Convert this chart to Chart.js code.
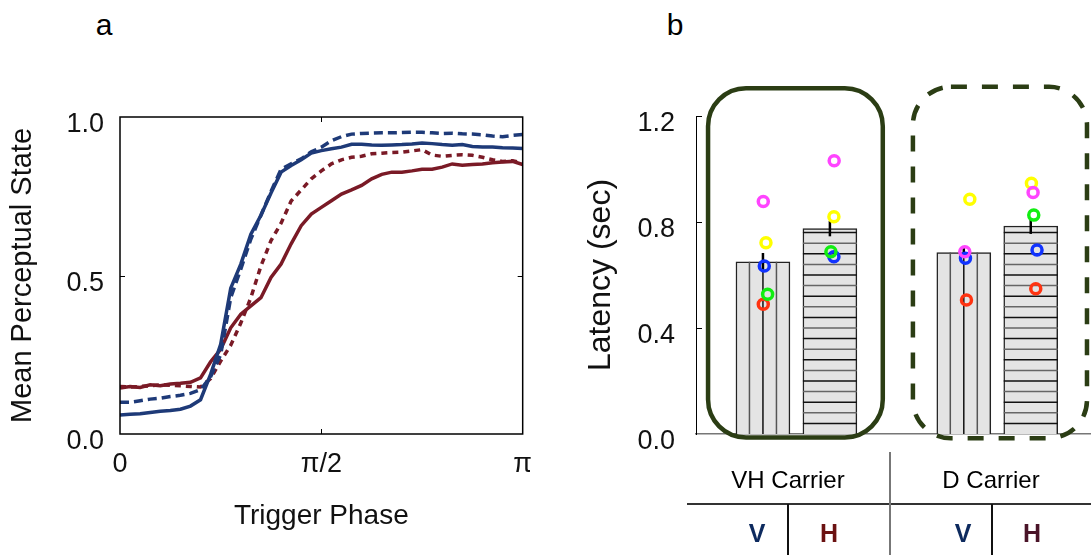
<!DOCTYPE html>
<html>
<head>
<meta charset="utf-8">
<script src="https://cdn.jsdelivr.net/npm/chart.js@4.4.0/dist/chart.umd.min.js"></script>
<style>
  html, body { margin: 0; padding: 0; background: #fff; }
  body { width: 1091px; height: 555px; position: relative; overflow: hidden;
         font-family: "Liberation Sans", Arial, sans-serif; color: #000; }
  .box { position: absolute; }
  .lbl { position: absolute; text-align: center; white-space: nowrap; }
  .rule { position: absolute; }
</style>
</head>
<body>

<div class="lbl" style="left:89px;top:10px;width:30px;font-size:30px;line-height:30px;">a</div>
<div class="lbl" style="left:660px;top:10px;width:30px;font-size:30px;line-height:30px;">b</div>

<div class="box" style="left:0;top:0;width:546px;height:555px;"><canvas id="phaseChart"></canvas></div>
<div class="box" style="left:560px;top:0;width:531px;height:555px;"><canvas id="latencyChart"></canvas></div>

<!-- condition table under panel b -->
<div class="rule" style="left:687px;top:503px;width:404px;height:2px;background:#333;"></div>
<div class="rule" style="left:889px;top:452px;width:2px;height:103px;background:#777;"></div>
<div class="rule" style="left:787px;top:504px;width:1.5px;height:51px;background:#111;"></div>
<div class="rule" style="left:991px;top:504px;width:1.5px;height:51px;background:#111;"></div>
<div class="lbl" style="left:688px;top:468px;width:200px;font-size:24px;line-height:24px;">VH Carrier</div>
<div class="lbl" style="left:891px;top:468px;width:200px;font-size:24px;line-height:24px;">D Carrier</div>
<div class="lbl" style="left:737px;top:521px;width:40px;font-weight:bold;font-size:25px;line-height:24px;color:#0d2a5e;">V</div>
<div class="lbl" style="left:809px;top:521px;width:40px;font-weight:bold;font-size:25px;line-height:24px;color:#6b1212;">H</div>
<div class="lbl" style="left:943px;top:521px;width:40px;font-weight:bold;font-size:25px;line-height:24px;color:#0d2a5e;">V</div>
<div class="lbl" style="left:1012px;top:521px;width:40px;font-weight:bold;font-size:25px;line-height:24px;color:#4a1428;">H</div>

<script>
// ---- panel a: trigger phase (fraction of pi) vs mean perceptual state
const phase = [0, 0.025, 0.05, 0.075, 0.1, 0.125, 0.15, 0.175, 0.2, 0.225,
  0.25, 0.275, 0.3, 0.325, 0.35, 0.375, 0.4, 0.425, 0.45, 0.475,
  0.5, 0.525, 0.55, 0.575, 0.6, 0.625, 0.65, 0.675, 0.7, 0.725,
  0.75, 0.775, 0.8, 0.825, 0.85, 0.875, 0.9, 0.925, 0.95, 0.975, 1];

const vSolid = [0.060, 0.062, 0.064, 0.068, 0.072, 0.074, 0.078, 0.088, 0.108, 0.188,
  0.283, 0.460, 0.536, 0.630, 0.690, 0.760, 0.826, 0.847, 0.865, 0.886,
  0.894, 0.900, 0.905, 0.914, 0.914, 0.912, 0.911, 0.912, 0.913, 0.915,
  0.918, 0.916, 0.913, 0.911, 0.913, 0.907, 0.905, 0.905, 0.903, 0.902, 0.901];

const vDashed = [0.100, 0.100, 0.105, 0.110, 0.113, 0.118, 0.122, 0.128, 0.140, 0.180,
  0.250, 0.430, 0.520, 0.615, 0.690, 0.765, 0.835, 0.852, 0.868, 0.890,
  0.905, 0.925, 0.938, 0.946, 0.948, 0.949, 0.950, 0.950, 0.951, 0.952,
  0.952, 0.950, 0.948, 0.949, 0.947, 0.946, 0.944, 0.940, 0.938, 0.942, 0.945];

const hSolid = [0.145, 0.150, 0.147, 0.155, 0.152, 0.158, 0.160, 0.163, 0.177, 0.228,
  0.267, 0.335, 0.378, 0.404, 0.430, 0.494, 0.536, 0.600, 0.657, 0.694,
  0.715, 0.736, 0.757, 0.770, 0.784, 0.805, 0.819, 0.826, 0.826, 0.830,
  0.835, 0.835, 0.842, 0.852, 0.848, 0.850, 0.852, 0.856, 0.858, 0.860, 0.850];

const hDashed = [0.150, 0.148, 0.150, 0.152, 0.155, 0.154, 0.152, 0.150, 0.148, 0.175,
  0.230, 0.280, 0.350, 0.430, 0.530, 0.610, 0.665, 0.735, 0.770, 0.805,
  0.830, 0.852, 0.865, 0.873, 0.876, 0.884, 0.886, 0.888, 0.889, 0.893,
  0.897, 0.880, 0.876, 0.879, 0.881, 0.879, 0.873, 0.865, 0.860, 0.862, 0.855];

const phaseTickLabels = { 0: '0', 0.5: 'π/2', 1: 'π' };

// ---- panel b: latency per condition
const barPos = [1, 2, 4, 5];
const meanLatency = [0.650, 0.775, 0.685, 0.785];
const semLatency = [0.033, 0.029, 0.020, 0.030];
const hatchKind = ['v', 'h', 'v', 'h'];

// individual subjects (null = not visible), with small x jitter in axis units
const subjMagenta = [0.877, 1.031, 0.688, 0.911];
const subjYellow  = [0.722, 0.820, 0.886, 0.946];
const subjBlue    = [0.634, 0.669, 0.663, 0.694];
const subjGreen   = [0.527, 0.688, null, 0.826];
const subjRed     = [0.490, null, 0.506, 0.548];
const jitMagenta = [0.005, 0.064, 0.015, 0.035];
const jitYellow  = [0.045, 0.060, 0.090, 0.010];
const jitBlue    = [0.020, 0.060, 0.025, 0.094];
const jitGreen   = [0.070, 0.015, 0, 0.045];
const jitRed     = [0.005, 0, 0.040, 0.075];

// carrier group outlines, in axis units
const groupBoxes = [
  { x0: 0.18, x1: 2.79, y0: -0.013, y1: 1.305, dashed: false },
  { x0: 3.24, x1: 5.84, y0: -0.016, y1: 1.31, dashed: true }
];

Chart.defaults.font.family = '"Liberation Sans", Arial, sans-serif';
Chart.defaults.color = '#111';
Chart.defaults.animation = false;

const BLUE = '#1e3a78';
const RED = '#7a1a26';

function toPts(ys) {
  return ys.map((v, i) => ({ x: phase[i], y: v }));
}

const frameTicks = {
  id: 'frameTicks',
  afterDatasetsDraw(chart) {
    const { ctx, chartArea: a, scales: { x, y } } = chart;
    ctx.save();
    ctx.strokeStyle = '#000';
    ctx.lineWidth = 1.5;
    ctx.strokeRect(a.left, a.top, a.right - a.left, a.bottom - a.top);
    ctx.lineWidth = 1;
    ctx.beginPath();
    y.ticks.forEach(t => {
      if (t.value <= y.min || t.value >= y.max) return;
      const py = Math.round(y.getPixelForValue(t.value)) + 0.5;
      ctx.moveTo(a.left, py); ctx.lineTo(a.left + 5, py);
      ctx.moveTo(a.right, py); ctx.lineTo(a.right - 5, py);
    });
    x.ticks.forEach(t => {
      if (t.value <= x.min || t.value >= x.max) return;
      const px = Math.round(x.getPixelForValue(t.value)) + 0.5;
      ctx.moveTo(px, a.bottom); ctx.lineTo(px, a.bottom - 5);
      ctx.moveTo(px, a.top); ctx.lineTo(px, a.top + 5);
    });
    ctx.stroke();
    ctx.restore();
  }
};

new Chart(document.getElementById('phaseChart'), {
  type: 'line',
  data: {
    datasets: [
      { data: toPts(vSolid), borderColor: BLUE, borderWidth: 3.5 },
      { data: toPts(vDashed), borderColor: BLUE, borderWidth: 3.5, borderDash: [9, 5] },
      { data: toPts(hSolid), borderColor: RED, borderWidth: 3.5 },
      { data: toPts(hDashed), borderColor: RED, borderWidth: 3.5, borderDash: [6, 5] }
    ]
  },
  options: {
    responsive: true,
    maintainAspectRatio: false,
    layout: { autoPadding: false, padding: { top: 117, right: 12, left: 0, bottom: 0 } },
    elements: { point: { radius: 0 }, line: { tension: 0 } },
    plugins: { legend: { display: false }, tooltip: { enabled: false } },
    scales: {
      x: {
        type: 'linear', min: 0, max: 1,
        border: { display: false },
        grid: { display: false, drawTicks: false },
        ticks: { stepSize: 0.5, padding: 14, font: { size: 27 },
                 callback: v => phaseTickLabels[v] },
        title: { display: true, text: 'Trigger Phase', font: { size: 28 },
                 padding: { top: 0, bottom: 22 } },
        afterFit: s => { s.height = 121; }
      },
      y: {
        min: 0, max: 1,
        border: { display: false },
        grid: { display: false, drawTicks: false },
        ticks: { stepSize: 0.5, padding: 16, labelOffset: 8, font: { size: 27 },
                 callback: v => v.toFixed(1) },
        title: { display: true, text: 'Mean Perceptual State', font: { size: 29 },
                 padding: { top: 6, bottom: 0 } },
        afterFit: s => { s.width = 120; }
      }
    }
  },
  plugins: [frameTicks]
});

// ---- panel b helpers
function subjectPts(vals, jit) {
  const pts = [];
  vals.forEach((v, i) => { if (v !== null) pts.push({ x: barPos[i] + jit[i], y: v }); });
  return pts;
}

function ring(vals, jit, color) {
  return {
    type: 'scatter', data: subjectPts(vals, jit),
    borderColor: color, backgroundColor: 'rgba(0,0,0,0)',
    pointRadius: 5, pointBorderWidth: 3.5, pointHoverRadius: 5
  };
}

function roundRect(ctx, x0, y0, x1, y1, r) {
  ctx.beginPath();
  ctx.moveTo(x0 + r, y0);
  ctx.arcTo(x1, y0, x1, y1, r);
  ctx.arcTo(x1, y1, x0, y1, r);
  ctx.arcTo(x0, y1, x0, y0, r);
  ctx.arcTo(x0, y0, x1, y0, r);
  ctx.closePath();
}

const barDecor = {
  id: 'barDecor',
  afterDatasetDraw(chart, args) {
    if (args.meta.type !== 'bar') return;
    const { ctx } = chart;
    const y = chart.scales.y;
    ctx.save();
    args.meta.data.forEach((el, i) => {
      const { x, y: top, base, width } = el.getProps(['x', 'y', 'base', 'width'], true);
      const left = x - width / 2, right = x + width / 2;
      ctx.lineWidth = 1.5;
      if (hatchKind[i] === 'v') {
        [0.25, 0.5, 0.75].forEach((f, k) => {
          ctx.strokeStyle = k === 1 ? '#111' : '#555';
          ctx.beginPath();
          ctx.moveTo(left + f * width, base);
          ctx.lineTo(left + f * width, top);
          ctx.stroke();
        });
      } else {
        for (let k = 1; k * 0.04 < meanLatency[i] - 0.01; k++) {
          const py = y.getPixelForValue(k * 0.04);
          ctx.strokeStyle = k % 2 ? '#111' : '#666';
          ctx.beginPath();
          ctx.moveTo(left, py);
          ctx.lineTo(right, py);
          ctx.stroke();
        }
      }
      // error bar
      ctx.strokeStyle = '#000';
      ctx.lineWidth = 2.5;
      ctx.beginPath();
      ctx.moveTo(x, y.getPixelForValue(meanLatency[i] - semLatency[i]));
      ctx.lineTo(x, y.getPixelForValue(meanLatency[i] + semLatency[i]));
      ctx.stroke();
    });
    ctx.restore();
  },
  afterDraw(chart) {
    const { ctx, chartArea: a, scales: { x, y } } = chart;
    ctx.save();
    ctx.strokeStyle = '#000';
    ctx.lineWidth = 1;
    ctx.beginPath();
    y.ticks.forEach(t => {
      if (t.value <= y.min) return;
      const py = Math.round(y.getPixelForValue(t.value)) + 0.5;
      ctx.moveTo(a.left, py); ctx.lineTo(a.left + 6, py);
    });
    ctx.stroke();
    ctx.strokeStyle = '#2b3d14';
    ctx.lineWidth = 4.5;
    groupBoxes.forEach(g => {
      ctx.setLineDash(g.dashed ? [16, 15] : []);
      roundRect(ctx, x.getPixelForValue(g.x0), y.getPixelForValue(g.y1),
                x.getPixelForValue(g.x1), y.getPixelForValue(g.y0), 38);
      ctx.stroke();
    });
    ctx.restore();
  }
};

new Chart(document.getElementById('latencyChart'), {
  type: 'bar',
  data: {
    datasets: [
      ring(subjMagenta, jitMagenta, '#ff44ff'),
      ring(subjYellow, jitYellow, '#ffff00'),
      ring(subjGreen, jitGreen, '#11ee11'),
      ring(subjBlue, jitBlue, '#1133ff'),
      ring(subjRed, jitRed, '#ff3311'),
      {
        type: 'bar',
        data: barPos.map((p, i) => ({ x: p, y: meanLatency[i] })),
        backgroundColor: '#e4e4e4',
        borderColor: '#222',
        borderWidth: 1.5,
        barThickness: 54
      }
    ]
  },
  options: {
    responsive: true,
    maintainAspectRatio: false,
    layout: { autoPadding: false, padding: { top: 116, right: 0, left: 0, bottom: 0 } },
    plugins: { legend: { display: false }, tooltip: { enabled: false } },
    scales: {
      x: {
        type: 'linear', min: 0, max: 5.9, offset: false,
        grid: { display: false, drawTicks: false },
        border: { display: true, color: '#777', width: 1.5 },
        ticks: { display: false },
        afterFit: s => { s.height = 121; }
      },
      y: {
        min: 0, max: 1.2,
        grid: { display: false, drawTicks: false },
        border: { display: true, color: '#000', width: 1 },
        ticks: { stepSize: 0.4, padding: 21, labelOffset: 8, font: { size: 27 },
                 callback: v => v.toFixed(1) },
        title: { display: true, text: 'Latency (sec)', font: { size: 32 },
                 padding: { top: 22, bottom: 0 } },
        afterFit: s => { s.width = 136; }
      }
    }
  },
  plugins: [barDecor]
});
</script>
</body>
</html>
